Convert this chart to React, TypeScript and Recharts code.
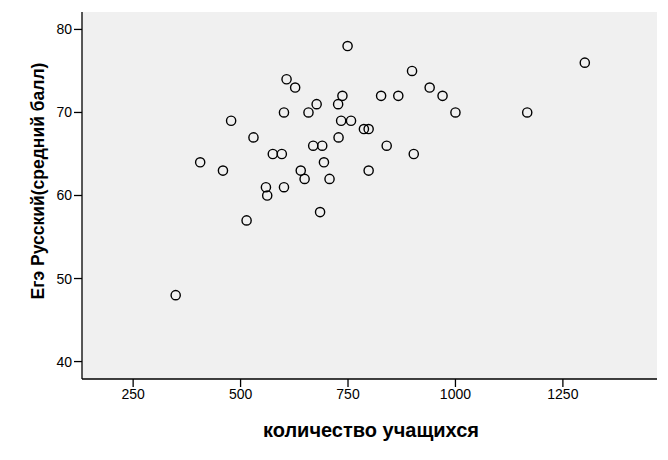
import { ScatterChart, Scatter, XAxis, YAxis, CartesianGrid, Label } from 'recharts';

// number of pupils vs mean Russian exam score
const students = [
  349, 406, 459, 478, 514, 530, 559, 562, 575, 596, 601, 601, 607, 627, 640, 649, 658, 669, 677, 685, 690,
  694, 707, 727, 728, 734, 737, 749, 757, 787, 798, 798, 827, 840, 867, 899, 903, 940, 970, 1000, 1167, 1301,
];
const scores = [
  48, 64, 63, 69, 57, 67, 61, 60, 65, 65, 70, 61, 74, 73, 63, 62, 70, 66, 71, 58, 66,
  64, 62, 71, 67, 69, 72, 78, 69, 68, 68, 63, 72, 66, 72, 75, 65, 73, 72, 70, 70, 76,
];
const xTicks = [250, 500, 750, 1000, 1250];
const yTicks = [40, 50, 60, 70, 80];

const points = students.map((s, i) => ({ x: s, y: scores[i] }));

const tickStyle = { fill: '#000', fontSize: 14 };

const Ring = (props: any) => (
  <circle cx={props.cx} cy={props.cy} r={4.6} fill="none" stroke="#000" strokeWidth={1.4} />
);

const XTitle = () => (
  <text x={371} y={437} textAnchor="middle" fill="#000" fontSize={20} fontWeight="bold">
    количество учащихся
  </text>
);

const YTitle = () => (
  <text x={44} y={181} textAnchor="middle" fill="#000" fontSize={17.5} fontWeight="bold" transform="rotate(-90, 44, 181)">
    Егэ Русский(средний балл)
  </text>
);

const App = () => {
  return (
    <div
      style={{
        position: 'absolute',
        left: 0,
        top: 0,
        width: 668,
        height: 460,
        background: '#fff',
        fontFamily: '"Liberation Sans", Arial, sans-serif',
      }}
    >
      <ScatterChart width={668} height={460} margin={{ top: 12, right: 11, left: 0, bottom: 0 }}>
        <CartesianGrid horizontal={false} vertical={false} fill="#f0f0f0" />
        <XAxis
          dataKey="x"
          type="number"
          domain={[131, 1469]}
          ticks={xTicks}
          allowDataOverflow
          height={81}
          tickSize={8}
          tick={tickStyle}
          axisLine={{ stroke: '#000', strokeWidth: 1.3 }}
          tickLine={{ stroke: '#000', strokeWidth: 1.3 }}
        >
          <Label content={XTitle} />
        </XAxis>
        <XAxis
          xAxisId="top"
          orientation="top"
          type="number"
          domain={[131, 1469]}
          height={0}
          tick={false}
          tickLine={false}
          axisLine={{ stroke: '#000', strokeWidth: 1.3 }}
        />
        <YAxis
          dataKey="y"
          type="number"
          domain={[37.9, 82.1]}
          ticks={yTicks}
          allowDataOverflow
          width={82}
          tickSize={8}
          tick={tickStyle}
          axisLine={{ stroke: '#000', strokeWidth: 1.3 }}
          tickLine={{ stroke: '#000', strokeWidth: 1.3 }}
        >
          <Label content={YTitle} />
        </YAxis>
        <YAxis
          yAxisId="right"
          orientation="right"
          type="number"
          domain={[37.9, 82.1]}
          width={0}
          tick={false}
          tickLine={false}
          axisLine={{ stroke: '#000', strokeWidth: 1.3 }}
        />
        <Scatter data={points} shape={Ring} isAnimationActive={false} />
      </ScatterChart>
    </div>
  );
};

export default App;
